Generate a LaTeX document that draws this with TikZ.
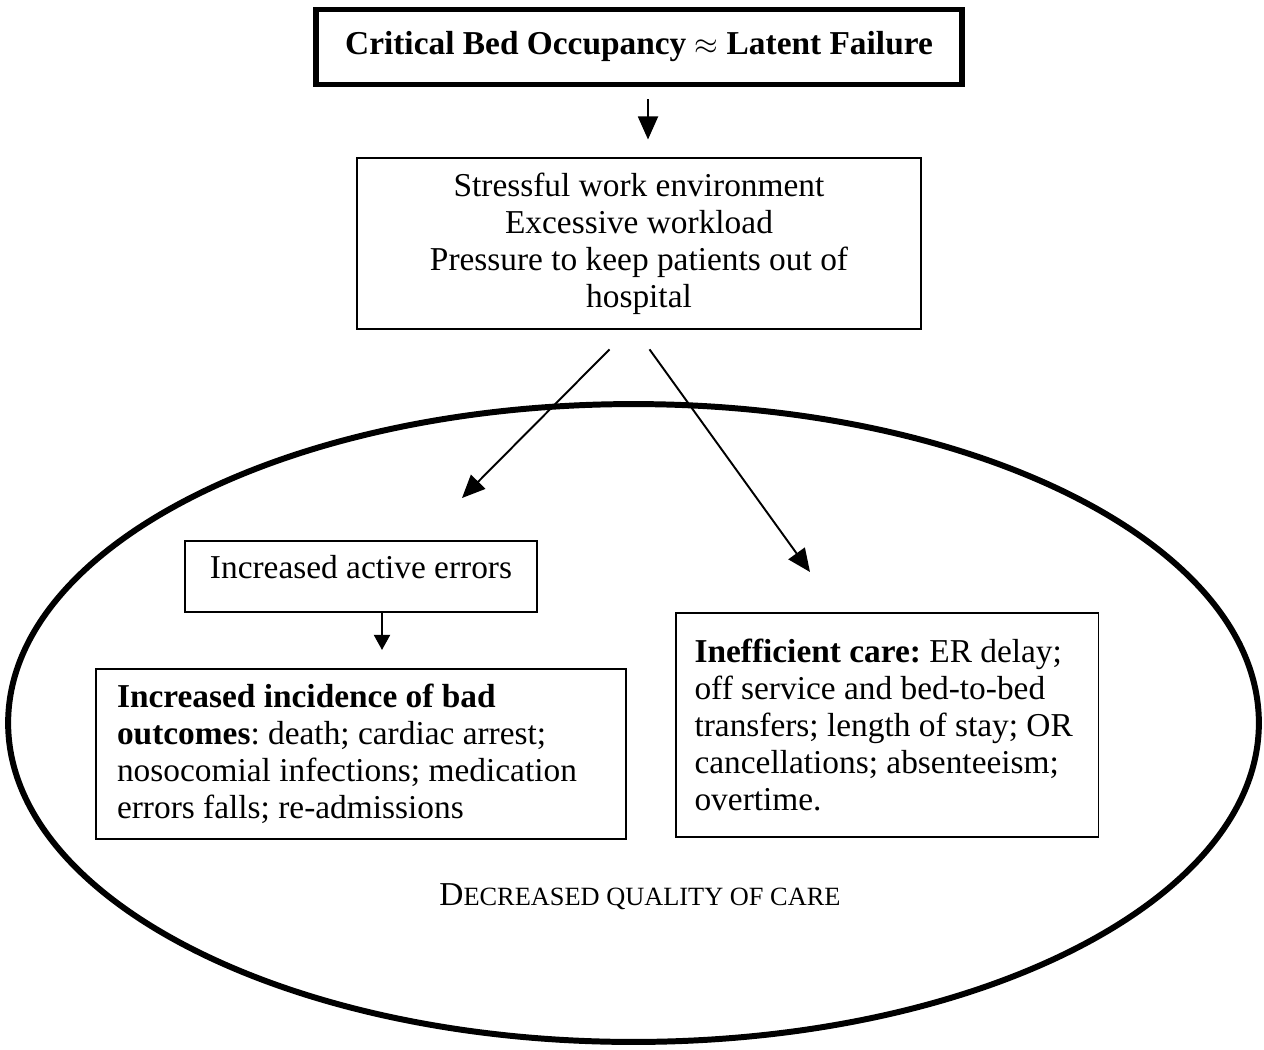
\documentclass[tikz,border=0pt]{standalone}
\usepackage{fontspec}
\setmainfont{Liberation Serif}
\usetikzlibrary{arrows.meta,positioning,shapes.geometric}

\begin{document}
\frenchspacing
\begin{tikzpicture}[
    x=0.02cm, y=-0.02cm,
    font=\fontsize{19}{21}\selectfont,
    box/.style={rectangle, draw, line width=1.1pt, align=center, inner sep=0pt},
    textbox/.style={rectangle, draw, line width=1.1pt, align=flush left, inner xsep=0.43cm, inner ysep=0pt},
    arr/.style={-{Triangle[length=0.46cm, width=0.4cm]}, line width=1.1pt},
    arrsmall/.style={-{Triangle[length=0.3cm, width=0.32cm]}, line width=1.1pt}
]
\useasboundingbox (0,0) rectangle (1264,1049);

% Outer ellipse
\node[ellipse, draw, line width=3.4pt, minimum width=25.02cm, minimum height=12.76cm, inner sep=0pt] (quality) at (633.5,723) {};
\node (qlabel) at (640,897) {D{\fontsize{15}{17}\selectfont ECREASED QUALITY OF CARE}};

% Boxes from top to bottom
\node[box, line width=3.4pt, minimum width=12.92cm, minimum height=1.5cm, font=\fontsize{19}{22}\selectfont\bfseries] (crit) at (639,47) {Critical Bed Occupancy $\approx$ Latent Failure};
\node[box, below=1.4cm of crit, minimum width=11.3cm, minimum height=3.42cm] (stress) {Stressful work environment\\Excessive workload\\Pressure to keep patients out of\\hospital};
\node[box, minimum width=7.04cm, minimum height=1.42cm, text depth=0.38cm] (active) at (361,576.5) {Increased active errors};
\node[textbox, below=1.1cm of active, text width=9.76cm, minimum height=3.4cm] (outcomes) {\textbf{Increased incidence of bad}\\\textbf{outcomes}: death; cardiac arrest;\\nosocomial infections; medication\\errors falls; re-admissions};
\node[textbox, text width=7.7cm, inner xsep=0.38cm, minimum height=4.48cm] (ineff) at (887,725) {\textbf{Inefficient care:} ER delay;\\off service and bed-to-bed\\transfers; length of stay; OR\\cancellations; absenteeism;\\overtime.};

% Arrow ends
\coordinate (lend) at (462,498);
\coordinate (rend) at (810,572);

% Arrows
\draw[arr, shorten <=0.24cm, shorten >=0.36cm] ([xshift=0.18cm]crit.south) -- ([xshift=0.18cm]crit.south |- stress.north);
\draw[arr] ([shift={(-29.5,19)}]stress.south) -- (lend);
\draw[arr] ([shift={(10.5,19)}]stress.south) -- (rend);
\draw[arrsmall, shorten >=0.36cm] ([xshift=0.42cm]active.south) -- ([xshift=0.42cm]outcomes.north);

\end{tikzpicture}
\end{document}
